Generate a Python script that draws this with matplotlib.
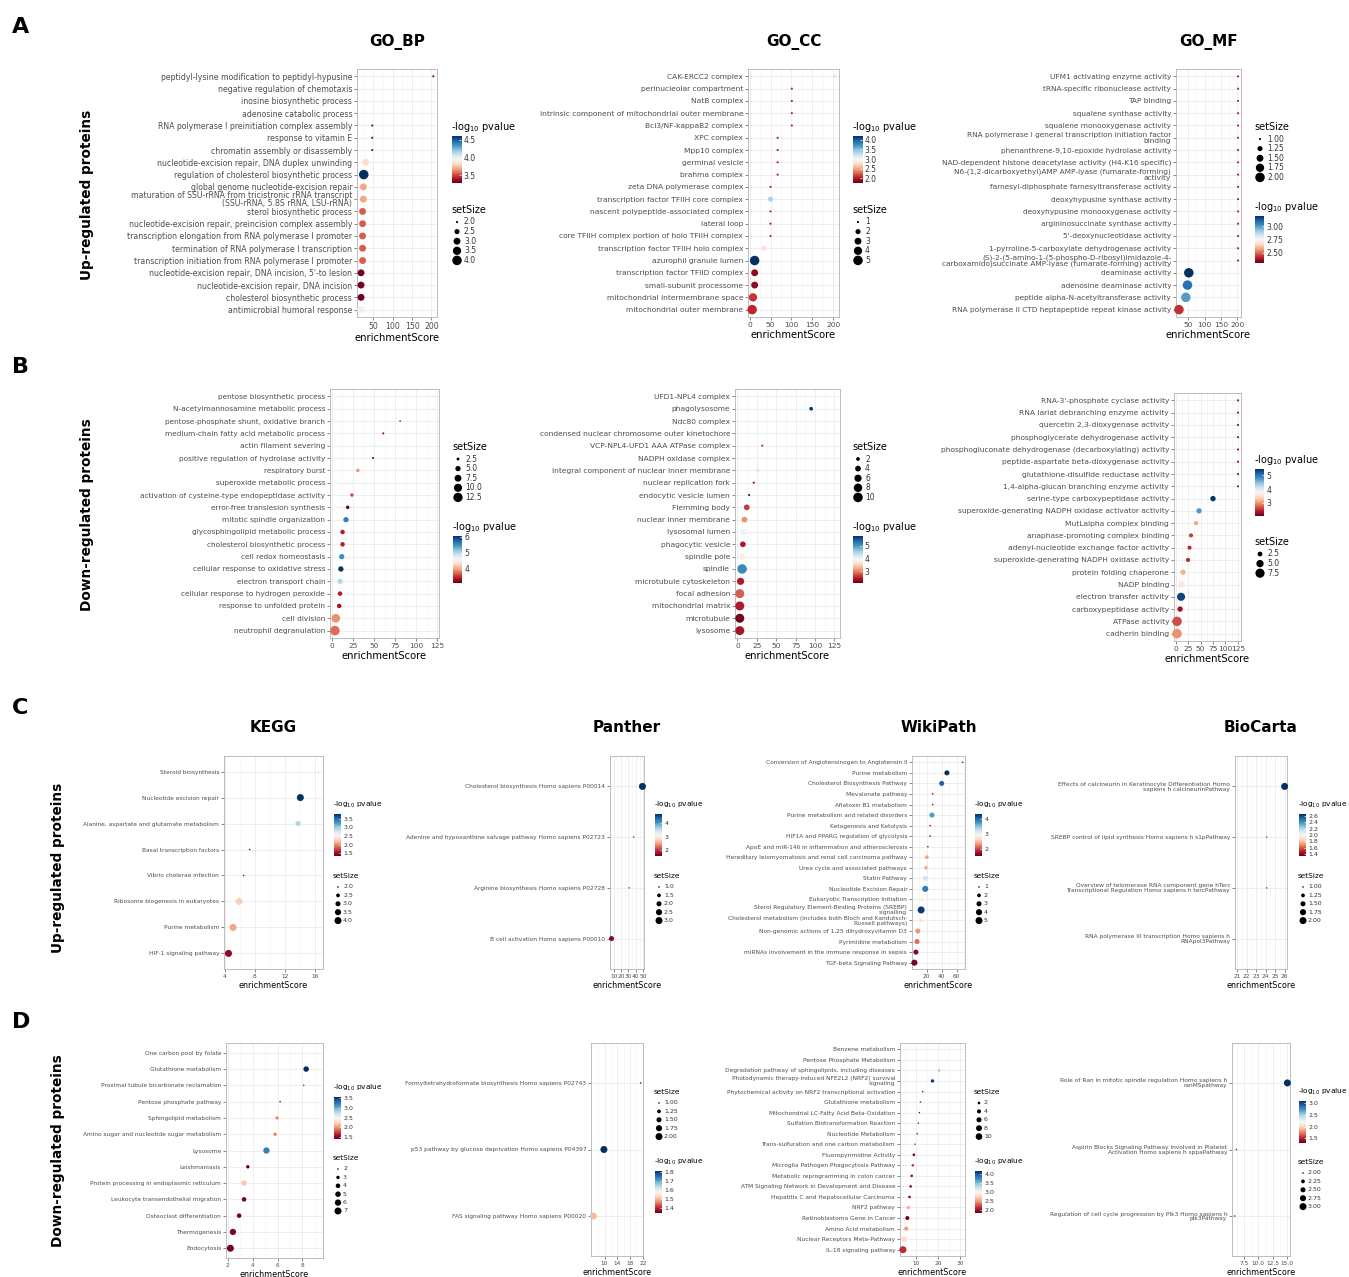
import matplotlib
matplotlib.use('Agg')
import matplotlib.pyplot as plt
import numpy as np

plt.rcParams['font.family'] = 'DejaVu Sans'

# ---------------- data ----------------
# A: up-regulated, GO
a_bp_terms = ["peptidyl-lysine modification to peptidyl-hypusine", "negative regulation of chemotaxis",
              "inosine biosynthetic process", "adenosine catabolic process",
              "RNA polymerase I preinitiation complex assembly", "response to vitamin E",
              "chromatin assembly or disassembly", "nucleotide-excision repair, DNA duplex unwinding",
              "regulation of cholesterol biosynthetic process", "global genome nucleotide-excision repair",
              "maturation of SSU-rRNA from tricistronic rRNA transcript\n(SSU-rRNA, 5.8S rRNA, LSU-rRNA)",
              "sterol biosynthetic process", "nucleotide-excision repair, preincision complex assembly",
              "transcription elongation from RNA polymerase I promoter",
              "termination of RNA polymerase I transcription",
              "transcription initiation from RNA polymerase I promoter",
              "nucleotide-excision repair, DNA incision, 5'-to lesion",
              "nucleotide-excision repair, DNA incision", "cholesterol biosynthetic process",
              "antimicrobial humoral response"]
a_bp_score = [205, 138, 138, 138, 47, 47, 47, 30, 25, 24, 24, 22, 22, 22, 22, 22, 18, 18, 18, 17]
a_bp_logp = [3.32, 3.95, 3.95, 3.95, 3.3, 3.3, 3.3, 3.83, 4.6, 3.68, 3.68, 3.54, 3.54, 3.54, 3.54, 3.54,
             3.3, 3.3, 3.3, 3.9]
a_bp_size = [2, 2, 2, 2, 2, 2, 2, 3, 4, 3, 3, 3, 3, 3, 3, 3, 3, 3, 3, 3]

a_cc_terms = ["CAK-ERCC2 complex", "perinucleolar compartment", "NatB complex",
              "intrinsic component of mitochondrial outer membrane", "Bcl3/NF-kappaB2 complex",
              "XPC complex", "Mpp10 complex", "germinal vesicle", "brahma complex",
              "zeta DNA polymerase complex", "transcription factor TFIIH core complex",
              "nascent polypeptide-associated complex", "lateral loop",
              "core TFIIH complex portion of holo TFIIH complex", "transcription factor TFIIH holo complex",
              "azurophil granule lumen", "transcription factor TFIID complex", "small-subunit processome",
              "mitochondrial intermembrane space", "mitochondrial outer membrane"]
a_cc_score = [204, 101, 101, 101, 101, 67, 67, 67, 67, 50, 50, 50, 50, 50, 34, 12, 12, 12, 8, 6]
a_cc_logp = [2.6, 2.0, 2.0, 2.0, 2.0, 2.0, 2.0, 2.0, 2.0, 2.0, 3.35, 2.0, 2.0, 2.0, 2.78, 4.2, 1.87, 1.87,
             2.1, 2.05]
a_cc_size = [1, 1, 1, 1, 1, 1, 1, 1, 1, 1, 2, 1, 1, 1, 2, 5, 3, 3, 4, 5]

a_mf_terms = ["UFM1 activating enzyme activity", "tRNA-specific ribonuclease activity", "TAP binding",
              "squalene synthase activity", "squalene monooxygenase activity",
              "RNA polymerase I general transcription initiation factor\nbinding",
              "phenanthrene-9,10-epoxide hydrolase activity",
              "NAD-dependent histone deacetylase activity (H4-K16 specific)",
              "N6-(1,2-dicarboxyethyl)AMP AMP-lyase (fumarate-forming)\nactivity",
              "farnesyl-diphosphate farnesyltransferase activity", "deoxyhypusine synthase activity",
              "deoxyhypusine monooxygenase activity", "argininosuccinate synthase activity",
              "5'-deoxynucleotidase activity", "1-pyrroline-5-carboxylate dehydrogenase activity",
              "(S)-2-(5-amino-1-(5-phospho-D-ribosyl)imidazole-4-\ncarboxamido)succinate AMP-lyase (fumarate-forming) activity",
              "deaminase activity", "adenosine deaminase activity",
              "peptide alpha-N-acetyltransferase activity",
              "RNA polymerase II CTD heptapeptide repeat kinase activity"]
a_mf_score = [202] * 16 + [52, 48, 43, 22]
a_mf_logp = [2.4] * 16 + [3.2, 3.09, 3.0, 2.42]
a_mf_size = [1] * 16 + [2, 2, 2, 2]

# B: down-regulated, GO
b_bp_terms = ["pentose biosynthetic process", "N-acetylmannosamine metabolic process",
              "pentose-phosphate shunt, oxidative branch", "medium-chain fatty acid metabolic process",
              "actin filament severing", "positive regulation of hydrolase activity", "respiratory burst",
              "superoxide metabolic process", "activation of cysteine-type endopeptidase activity",
              "error-free translesion synthesis", "mitotic spindle organization",
              "glycosphingolipid metabolic process", "cholesterol biosynthetic process",
              "cell redox homeostasis", "cellular response to oxidative stress", "electron transport chain",
              "cellular response to hydrogen peroxide", "response to unfolded protein", "cell division",
              "neutrophil degranulation"]
b_bp_score = [121, 121, 81, 61, 52, 49, 31, 25, 24, 19, 17, 13, 13, 12, 11, 10, 10, 9, 5, 4]
b_bp_logp = [4.43, 4.43, 3.7, 3.34, 4.73, 3.25, 3.93, 4.64, 3.63, 3.1, 5.6, 3.4, 3.4, 5.5, 6.05, 5.0,
             3.4, 3.34, 3.9, 3.75]
b_bp_size = [2, 2, 2, 2, 2, 2, 3, 3, 3, 3, 5, 4, 4, 5, 5, 5, 4, 4, 11, 13]

b_cc_terms = ["UFD1-NPL4 complex", "phagolysosome", "Ndc80 complex",
              "condensed nuclear chromosome outer kinetochore", "VCP-NPL4-UFD1 AAA ATPase complex",
              "NADPH oxidase complex", "integral component of nuclear inner membrane",
              "nuclear replication fork", "endocytic vesicle lumen", "Flemming body",
              "nuclear inner membrane", "lysosomal lumen", "phagocytic vesicle", "spindle pole", "spindle",
              "microtubule cytoskeleton", "focal adhesion", "mitochondrial matrix", "microtubule",
              "lysosome"]
b_cc_score = [126, 95, 63, 63, 32, 29, 26, 21, 15, 12, 9, 8, 7, 6, 6, 4, 3, 3, 3, 3]
b_cc_logp = [3.93, 5.7, 3.63, 3.74, 2.54, 3.93, 3.63, 2.28, 2.17, 2.65, 3.1, 4.0, 2.47, 3.82, 5.1,
             2.47, 2.83, 2.47, 2.17, 2.4]
b_cc_size = [1, 2, 1, 1, 1, 2, 2, 1, 1, 4, 4, 5, 4, 5, 10, 6, 9, 9, 9, 9]

b_mf_terms = ["RNA-3'-phosphate cyclase activity", "RNA lariat debranching enzyme activity",
              "quercetin 2,3-dioxygenase activity", "phosphoglycerate dehydrogenase activity",
              "phosphogluconate dehydrogenase (decarboxylating) activity",
              "peptide-aspartate beta-dioxygenase activity", "glutathione-disulfide reductase activity",
              "1,4-alpha-glucan branching enzyme activity", "serine-type carboxypeptidase activity",
              "superoxide-generating NADPH oxidase activator activity", "MutLalpha complex binding",
              "anaphase-promoting complex binding", "adenyl-nucleotide exchange factor activity",
              "superoxide-generating NADPH oxidase activity", "protein folding chaperone", "NADP binding",
              "electron transfer activity", "carboxypeptidase activity", "ATPase activity",
              "cadherin binding"]
b_mf_score = [125] * 8 + [75, 47, 41, 31, 28, 25, 15, 12, 11, 9, 3, 3]
b_mf_logp = [2.3] * 8 + [5.4, 4.7, 3.08, 2.57, 2.5, 2.47, 3.15, 3.58, 5.3, 2.34, 2.67, 2.98]
b_mf_size = [1] * 8 + [3, 3, 2, 2, 2, 2, 3, 4, 6, 3, 8, 8]

# C: up-regulated, pathways
c_kegg_terms = ["Steroid biosynthesis", "Nucleotide excision repair",
                "Alanine, aspartate and glutamate metabolism", "Basal transcription factors",
                "Vibrio cholerae infection", "Ribosome biogenesis in eukaryotes", "Purine metabolism",
                "HIF-1 signaling pathway"]
c_kegg_score = [16.4, 14.0, 13.7, 7.3, 6.5, 5.9, 5.1, 4.5]
c_kegg_logp = [2.31, 3.79, 2.93, 1.38, 1.38, 2.27, 2.07, 1.45]
c_kegg_size = [2, 4, 3, 2, 2, 4, 4, 4]

c_panther_terms = ["Cholesterol biosynthesis Homo sapiens P00014",
                   "Adenine and hypoxanthine salvage pathway Homo sapiens P02723",
                   "Arginine biosynthesis Homo sapiens P02728", "B cell activation Homo sapiens P00010"]
c_panther_score = [49, 37, 31, 7]
c_panther_logp = [4.7, 1.9, 2.0, 1.69]
c_panther_size = [3, 1, 1, 2]

c_wiki_terms = ["Conversion of Angiotensinogen to Angiotensin II", "Purine metabolism",
                "Cholesterol Biosynthesis Pathway", "Mevalonate pathway", "Aflatoxin B1 metabolism",
                "Purine metabolism and related disorders", "Ketogenesis and Ketolysis",
                "HIF1A and PPARG regulation of glycolysis",
                "ApoE and miR-146 in inflammation and atherosclerosis",
                "Hereditary leiomyomatosis and renal cell carcinoma pathway",
                "Urea cycle and associated pathways", "Statin Pathway", "Nucleotide Excision Repair",
                "Eukaryotic Transcription Initiation",
                "Sterol Regulatory Element-Binding Proteins (SREBP)\nsignalling",
                "Cholesterol metabolism (includes both Bloch and Kandutsch-\nRussell pathways)",
                "Non-genomic actions of 1,25 dihydroxyvitamin D3", "Pyrimidine metabolism",
                "miRNAs involvement in the immune response in sepsis", "TGF-beta Signaling Pathway"]
c_wiki_score = [68, 47, 40, 28, 28, 27, 24.5, 24.5, 21.5, 20, 19, 18, 18, 14, 12.5, 12, 8, 7, 5.5, 3.5]
c_wiki_logp = [1.6, 4.36, 4.07, 1.6, 1.6, 3.73, 1.55, 1.55, 1.55, 2.36, 2.41, 3.22, 3.93, 2.84, 4.3,
               2.73, 2.3, 2.13, 1.61, 1.56]
c_wiki_size = [1, 3, 3, 1, 1, 3, 1, 1, 1, 2, 2, 3, 4, 2, 5, 2, 3, 3, 3, 4]

c_bioc_terms = ["Effects of calcineurin in Keratinocyte Differentiation Homo\nsapiens h calcineurinPathway",
                "SREBP control of lipid synthesis Homo sapiens h s1pPathway",
                "Overview of telomerase RNA component gene hTerc\nTranscriptional Regulation Homo sapiens h tercPathway",
                "RNA polymerase III transcription Homo sapiens h\nRNApol3Pathway"]
c_bioc_score = [26, 24.1, 24.1, 21]
c_bioc_logp = [2.66, 1.5, 1.5, 2.0]
c_bioc_size = [2, 1, 1, 1]

# D: down-regulated, pathways
d_kegg_terms = ["One carbon pool by folate", "Glutathione metabolism",
                "Proximal tubule bicarbonate reclamation", "Pentose phosphate pathway",
                "Sphingolipid metabolism", "Amino sugar and nucleotide sugar metabolism", "Lysosome",
                "Leishmaniasis", "Protein processing in endoplasmic reticulum",
                "Leukocyte transendothelial migration", "Osteoclast differentiation", "Thermogenesis",
                "Endocytosis"]
d_kegg_score = [9.3, 8.3, 8.1, 6.2, 5.95, 5.8, 5.1, 3.6, 3.3, 3.3, 2.9, 2.4, 2.2]
d_kegg_logp = [2.5, 3.55, 1.66, 1.49, 1.98, 1.94, 3.23, 1.4, 2.2, 1.46, 1.44, 1.46, 1.42]
d_kegg_size = [2, 5, 2, 2, 3, 3, 6, 3, 5, 4, 4, 6, 7]

d_panther_terms = ["Formyltetrahydroformate biosynthesis Homo sapiens P02743",
                   "p53 pathway by glucose deprivation Homo sapiens P04397",
                   "FAS signaling pathway Homo sapiens P00020"]
d_panther_score = [21.3, 9.8, 6.5]
d_panther_logp = [1.36, 1.81, 1.5]
d_panther_size = [1, 2, 2]

d_wiki_terms = ["Benzene metabolism", "Pentose Phosphate Metabolism",
                "Degradation pathway of sphingolipids, including diseases",
                "Photodynamic therapy-induced NFE2L2 (NRF2) survival\nsignaling",
                "Phytochemical activity on NRF2 transcriptional activation", "Glutathione metabolism",
                "Mitochondrial LC-Fatty Acid Beta-Oxidation", "Sulfation Biotransformation Reaction",
                "Nucleotide Metabolism", "Trans-sulfuration and one carbon metabolism",
                "Fluoropyrimidine Activity", "Microglia Pathogen Phagocytosis Pathway",
                "Metabolic reprogramming in colon cancer",
                "ATM Signaling Network in Development and Disease",
                "Hepatitis C and Hepatocellular Carcinoma", "NRF2 pathway", "Retinoblastoma Gene in Cancer",
                "Amino Acid metabolism", "Nuclear Receptors Meta-Pathway", "IL-18 signaling pathway"]
d_wiki_score = [31, 24, 20.5, 17.5, 13, 12, 11.5, 11, 10.5, 9.5, 9, 8.5, 8, 7.5, 7, 6.5, 6, 5.5, 4.5, 4]
d_wiki_logp = [2.9, 2.8, 2.6, 4.1, 2.0, 2.0, 1.95, 2.0, 1.95, 2.1, 1.9, 2.2, 2.0, 2.0, 1.95, 2.6, 1.9,
               2.5, 2.8, 2.15]
d_wiki_size = [1, 1, 2, 3, 1, 1, 1, 1, 1, 1, 2, 2, 2, 2, 2, 3, 4, 4, 8, 11]

d_bioc_terms = ["Role of Ran in mitotic spindle regulation Homo sapiens h\nranMSpathway",
                "Aspirin Blocks Signaling Pathway Involved in Platelet\nActivation Homo sapiens h sppaPathway",
                "Regulation of cell cycle progression by Plk3 Homo sapiens h\nplk3Pathway"]
d_bioc_score = [15.0, 6.2, 5.9]
d_bioc_logp = [3.1, 1.4, 1.35]
d_bioc_size = [3, 2, 2]

# ---------------- figure ----------------
W, H = 1349, 1277
fig = plt.figure(figsize=(W / 100, H / 100), dpi=100)
ov = fig.add_axes([0, 0, 1, 1])
ov.set_xlim(0, W)
ov.set_ylim(H, 0)
ov.axis('off')

GREY = '#4d4d4d'


def frame_axes(l, t, r, b):
    return fig.add_axes([l / W, 1 - b / H, (r - l) / W, (b - t) / H])


def marker_area(sizes, smin, smax, dmax):
    # area grows linearly with setSize; smallest dot about 1/4.5 of the largest
    t = (np.asarray(sizes, float) - smin) / (smax - smin)
    r0 = (1 / 4.5) ** 2
    d = dmax * np.sqrt(r0 + (1 - r0) * t)
    return (d * 0.72) ** 2


def dot_panel(frame, terms, score, logp, setsize, vlim, xticks, fs=5.6, small=False, xfmt='%g'):
    if small:
        fs = 4.2
    dmax = 7 if small else 9.5
    ax = frame_axes(*frame)
    n = len(terms)
    y = np.arange(n)
    lo, hi = min(score), max(score)
    pad = 0.05 * (hi - lo)
    ax.set_xlim(lo - pad, hi + pad)
    ax.set_ylim(n - 0.4, -0.6)
    smin, smax = min(setsize), max(setsize)
    ax.scatter(score, y, s=marker_area(setsize, smin, smax, dmax), c=logp, cmap='RdBu',
               vmin=vlim[0], vmax=vlim[1], edgecolors='none', zorder=3, clip_on=False)
    ax.set_yticks(y)
    ax.set_yticklabels(terms, linespacing=0.9)
    ax.set_xticks(xticks)
    ax.set_xticklabels([xfmt % v for v in xticks])
    step = xticks[1] - xticks[0]
    minor = [xticks[0] - step / 2] + [v + step / 2 for v in xticks]
    ax.set_xticks([m for m in minor if lo - pad < m < hi + pad], minor=True)
    ax.grid(True, which='major', color='#ebebeb', lw=0.6)
    ax.grid(True, which='minor', axis='x', color='#f4f4f4', lw=0.4)
    ax.set_axisbelow(True)
    ax.tick_params(which='major', length=2, width=0.5, color='#555555', labelsize=fs,
                   labelcolor=GREY, pad=1.5)
    ax.tick_params(which='minor', length=0)
    for sp in ax.spines.values():
        sp.set_color('#b3b3b3')
        sp.set_linewidth(0.6)
    ax.set_xlabel('enrichmentScore', fontsize=5.8 if small else 7.2, labelpad=1.5)
    return (smin, smax, dmax)


def panel_title(frame, text, y):
    ov.text((frame[0] + frame[2]) / 2, y, text, fontsize=11, fontweight='bold', ha='center', va='center')


def pvalue_legend(x, y, vlim, ticks, fmt='%g', small=False):
    bw, bh = (7, 42) if small else (9, 47)
    ov.text(x - 1, y, r'-log$_{10}$ pvalue', fontsize=5.3 if small else 7, ha='left', va='center')
    cax = frame_axes(x, y + 9, x + bw, y + 9 + bh)
    grad = np.linspace(vlim[0], vlim[1], 256).reshape(-1, 1)
    cax.imshow(grad, aspect='auto', cmap='RdBu', vmin=vlim[0], vmax=vlim[1], origin='lower',
               extent=[0, 1, vlim[0], vlim[1]])
    cax.set_xticks([])
    cax.yaxis.tick_right()
    cax.set_yticks(ticks)
    cax.set_yticklabels([fmt % t for t in ticks])
    cax.tick_params(axis='y', length=1.5, width=0.5, color='white', direction='in',
                    labelsize=4.5 if small else 5.5, labelcolor='#333333', pad=2)
    for sp in cax.spines.values():
        sp.set_visible(False)


def size_legend(x, y, breaks, scale, fmt='%g', small=False):
    smin, smax, dmax = scale
    step = 8.4 if small else 9.6
    ov.text(x - 1, y, 'setSize', fontsize=5.3 if small else 7, ha='left', va='center')
    for i, b in enumerate(breaks):
        yy = y + (11 if small else 12) + i * step
        ov.scatter([x + (4 if small else 5)], [yy], s=marker_area([b], smin, smax, dmax),
                   color='black', edgecolors='none')
        ov.text(x + (9 if small else 12), yy, fmt % b, fontsize=4.5 if small else 5.5,
                color='#333333', va='center', ha='left')


# ---- row A ----
f = (357, 69, 437, 317)
sc = dot_panel(f, a_bp_terms, a_bp_score, a_bp_logp, a_bp_size, (3.28, 4.6), [50, 100, 150, 200])
panel_title(f, 'GO_BP', 42)
pvalue_legend(452, 127, (3.28, 4.6), [3.5, 4.0, 4.5], '%.1f')
size_legend(452, 210, [2.0, 2.5, 3.0, 3.5, 4.0], sc, '%.1f')

f = (748, 69, 839, 317)
sc = dot_panel(f, a_cc_terms, a_cc_score, a_cc_logp, a_cc_size, (1.75, 4.2), [0, 50, 100, 150, 200],
               fs=5.4)
panel_title(f, 'GO_CC', 42)
pvalue_legend(853, 127, (1.75, 4.2), [2.0, 2.5, 3.0, 3.5, 4.0], '%.1f')
size_legend(853, 210, [1, 2, 3, 4, 5], sc)

f = (1176, 69, 1241, 317)
sc = dot_panel(f, a_mf_terms, a_mf_score, a_mf_logp, a_mf_size, (2.3, 3.2), [50, 100, 150, 200], fs=5.3)
panel_title(f, 'GO_MF', 42)
size_legend(1255, 127, [1.0, 1.25, 1.5, 1.75, 2.0], sc, '%.2f')
pvalue_legend(1255, 207, (2.3, 3.2), [2.5, 2.75, 3.0], '%.2f')

# ---- row B ----
bt = [0, 25, 50, 75, 100, 125]
f = (330, 389, 439, 638)
sc = dot_panel(f, b_bp_terms, b_bp_score, b_bp_logp, b_bp_size, (3.1, 6.06), bt, fs=5.3)
size_legend(453, 447, [2.5, 5.0, 7.5, 10.0, 12.5], sc, '%.1f')
pvalue_legend(453, 527, (3.1, 6.06), [4, 5, 6])

f = (735, 389, 840, 638)
sc = dot_panel(f, b_cc_terms, b_cc_score, b_cc_logp, b_cc_size, (2.1, 5.75), bt, fs=5.4)
size_legend(853, 447, [2, 4, 6, 8, 10], sc)
pvalue_legend(853, 527, (2.1, 5.75), [3, 4, 5])

f = (1174, 393, 1241, 641)
sc = dot_panel(f, b_mf_terms, b_mf_score, b_mf_logp, b_mf_size, (2.07, 5.43), bt, fs=5.4)
pvalue_legend(1255, 460, (2.07, 5.43), [3, 4, 5])
size_legend(1255, 542, [2.5, 5.0, 7.5], sc, '%.1f')

# ---- row C ----
f = (224, 756, 323, 969)
sc = dot_panel(f, c_kegg_terms, c_kegg_score, c_kegg_logp, c_kegg_size, (1.33, 3.79), [4, 8, 12, 16], small=True)
panel_title(f, 'KEGG', 727)
pvalue_legend(334, 805, (1.33, 3.79), [1.5, 2.0, 2.5, 3.0, 3.5], '%.1f', small=True)
size_legend(334, 876, [2.0, 2.5, 3.0, 3.5, 4.0], sc, '%.1f', small=True)

f = (610, 756, 644, 969)
sc = dot_panel(f, c_panther_terms, c_panther_score, c_panther_logp, c_panther_size, (1.53, 4.7),
               [10, 20, 30, 40, 50], small=True)
panel_title(f, 'Panther', 727)
pvalue_legend(655, 805, (1.53, 4.7), [2, 3, 4], small=True)
size_legend(655, 876, [1.0, 1.5, 2.0, 2.5, 3.0], sc, '%.1f', small=True)

f = (912, 756, 965, 969)
sc = dot_panel(f, c_wiki_terms, c_wiki_score, c_wiki_logp, c_wiki_size, (1.5, 4.36), [20, 40, 60], small=True)
panel_title(f, 'WikiPath', 727)
pvalue_legend(975, 805, (1.5, 4.36), [2, 3, 4], small=True)
size_legend(975, 876, [1, 2, 3, 4, 5], sc, small=True)

f = (1235, 756, 1287, 969)
sc = dot_panel(f, c_bioc_terms, c_bioc_score, c_bioc_logp, c_bioc_size, (1.34, 2.66),
               [21, 22, 23, 24, 25, 26], small=True)
panel_title(f, 'BioCarta', 727)
pvalue_legend(1299, 805, (1.34, 2.66), [1.4, 1.6, 1.8, 2.0, 2.2, 2.4, 2.6], '%.1f', small=True)
size_legend(1299, 876, [1.0, 1.25, 1.5, 1.75, 2.0], sc, '%.2f', small=True)

# ---- row D ----
f = (226, 1043, 323, 1258)
sc = dot_panel(f, d_kegg_terms, d_kegg_score, d_kegg_logp, d_kegg_size, (1.4, 3.55), [2, 4, 6, 8], small=True)
pvalue_legend(334, 1088, (1.4, 3.55), [1.5, 2.0, 2.5, 3.0, 3.5], '%.1f', small=True)
size_legend(334, 1158, [2, 3, 4, 5, 6, 7], sc, small=True)

f = (591, 1043, 643, 1256)
sc = dot_panel(f, d_panther_terms, d_panther_score, d_panther_logp, d_panther_size, (1.34, 1.81),
               [10, 14, 18, 22], small=True)
size_legend(655, 1092, [1.0, 1.25, 1.5, 1.75, 2.0], sc, '%.2f', small=True)
pvalue_legend(655, 1162, (1.34, 1.81), [1.4, 1.5, 1.6, 1.7, 1.8], '%.1f', small=True)

f = (900, 1043, 965, 1256)
sc = dot_panel(f, d_wiki_terms, d_wiki_score, d_wiki_logp, d_wiki_size, (1.85, 4.15), [10, 20, 30], small=True)
size_legend(975, 1092, [2, 4, 6, 8, 10], sc, small=True)
pvalue_legend(975, 1162, (1.85, 4.15), [2.0, 2.5, 3.0, 3.5, 4.0], '%.1f', small=True)

f = (1232, 1043, 1290, 1256)
sc = dot_panel(f, d_bioc_terms, d_bioc_score, d_bioc_logp, d_bioc_size, (1.3, 3.1),
               [7.5, 10.0, 12.5, 15.0], small=True, xfmt='%.1f')
pvalue_legend(1299, 1092, (1.3, 3.1), [1.5, 2.0, 2.5, 3.0], '%.1f', small=True)
size_legend(1299, 1162, [2.0, 2.25, 2.5, 2.75, 3.0], sc, '%.2f', small=True)

# ---- panel letters and row labels ----
for letter, yy in [('A', 27), ('B', 367), ('C', 708), ('D', 1022)]:
    ov.text(12, yy, letter, fontsize=16, fontweight='bold', ha='left', va='center')
for label, xx, yy in [('Up-regulated proteins', 87, 195), ('Down-regulated proteins', 87, 515),
                      ('Up-regulated proteins', 58, 868), ('Down-regulated proteins', 58, 1151)]:
    ov.text(xx, yy, label, fontsize=9.8, fontweight='bold', rotation=90, ha='center', va='center')

fig.savefig('out.png', dpi=100)
